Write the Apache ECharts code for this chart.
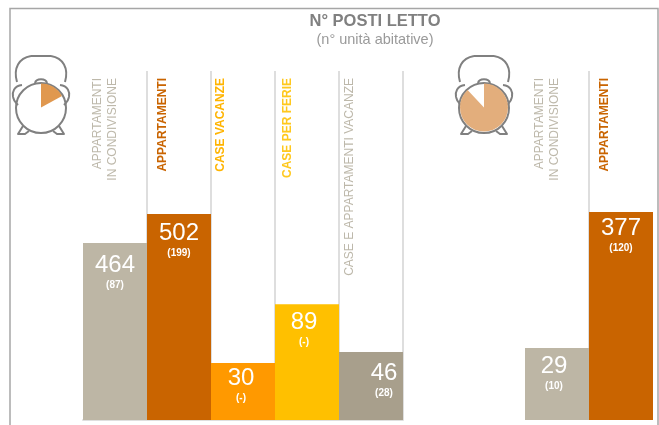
<!DOCTYPE html>
<html><head><meta charset="utf-8">
<style>html,body{margin:0;padding:0;background:#fff}#c{width:659px;height:425px}</style>
<script src="https://cdn.jsdelivr.net/npm/echarts@6/dist/echarts.min.js"></script>
</head><body><div id="c"></div>
<script>
// Left panel
const catsA = ['APPARTAMENTI\nIN CONDIVISIONE','APPARTAMENTI','CASE VACANZE','CASE PER FERIE','CASE E APPARTAMENTI VACANZE'];
const postiA = [464,502,30,89,46];
const unitaA = ['(87)','(199)','(-)','(-)','(28)'];
const levelsA = [50.7,59,16.3,33.2,19.5];   // drawn bar height, % of column (bars in the source are not to scale)
const colorsA = ['#BDB6A5','#C96400','#FF9900','#FFC000','#A89F8C'];
const textA = ['#BDB8AA','#C96400','#FFB400','#FFC81E','#BDB8AA'];
const boldA = [false,true,true,true,false];
const shiftA = [[0,4],[0,1],[-2,-3],[-3,0],[13,3]];
const catPadA = [16,30,42,36,40];
// Right panel
const catsB = ['APPARTAMENTI\nIN CONDIVISIONE','APPARTAMENTI'];
const postiB = [29,377];
const unitaB = ['(10)','(120)'];
const levelsB = [20.6,59.6];
const colorsB = ['#BDB6A5','#C96400'];
const textB = ['#BDB8AA','#C96400'];
const boldB = [false,true];
const shiftB = [[-3,0],[0,-2]];
const catPadB = [16,30];
// Clock shares
const clockA = [17,83];
const clockB = [88,12];

const FONT = '"Liberation Sans",Arial,sans-serif';
const chart = echarts.init(document.getElementById('c'));

function barData(levels,posti,unita,colors,shift){
  return levels.map((v,i)=>({
    value:v,
    itemStyle:{color:colors[i]},
    label:{offset:shift[i],formatter:'{a|'+posti[i]+'}\n{b|'+unita[i]+'}'}
  }));
}
function xAxis(cats,idx,colors,bold,pads,splitOpt,lineShow){
  const rich={};
  cats.forEach((c,i)=>{
    const base={fontFamily:FONT,fontSize:12,lineHeight:15.5,color:colors[i],fontWeight:bold[i]?'bold':'normal',verticalAlign:'top'};
    rich['h'+i]=base;
    rich['t'+i]=Object.assign({},base,{lineHeight:15.5+pads[i]});
  });
  return {type:'category',gridIndex:idx,position:'top',data:cats,boundaryGap:true,
    axisTick:{show:false},
    axisLine:{show:lineShow,lineStyle:{color:'#DFDFDF',width:2}},
    splitLine:Object.assign({show:true,lineStyle:{color:'#DEDEDE',width:2}},splitOpt),
    axisLabel:{inside:true,rotate:90,interval:0,margin:7,fontFamily:FONT,fontSize:12,
      formatter:(v,i)=>{
        const ls=v.split('\n');
        return ls.map((l,k)=>'{'+(k===ls.length-1?'t':'h')+i+'|'+l+'}').join('\n');
      },
      rich}
  };
}
function barSeries(idx,data){
  return {type:'bar',xAxisIndex:idx,yAxisIndex:idx,data,barWidth:'100%',barGap:'0%',z:3,
    label:{show:true,position:'insideTop',distance:5,color:'#fff',fontFamily:FONT,align:'center',
      rich:{a:{fontSize:24,lineHeight:27,color:'#fff',fontFamily:FONT,align:'center'},
            b:{fontSize:10,lineHeight:13,fontWeight:'bold',color:'#fff',fontFamily:FONT,align:'center'}}}};
}
function clockSeries(cx,cy,r,data,colors){
  return {type:'pie',center:[cx,cy],radius:[0,r],startAngle:90,clockwise:true,silent:true,z:1,
    label:{show:false},labelLine:{show:false},
    emphasis:{disabled:true},
    data:data.map((v,i)=>({value:v,itemStyle:{color:colors[i]}}))};
}
function clockIcon(cx,cy){
  const st={stroke:'#808080',lineWidth:2,fill:'none',lineJoin:'round'};
  const bez=(a,b,c,d,e,f,g,h)=>({type:'bezierCurve',shape:{x1:a,y1:b,cpx1:c,cpy1:d,cpx2:e,cpy2:f,x2:g,y2:h},style:st});
  const poly=(pts)=>({type:'polyline',shape:{points:pts},style:st});
  return {type:'group',x:cx,y:cy,z:5,children:[
    {type:'circle',shape:{cx:0,cy:0,r:25},style:st},
    bez(-24,-26,-28,-40,-22,-50,-10,-52),
    poly([[-10,-52],[10,-52]]),
    bez(10,-52,22,-50,28,-40,24,-26),
    bez(-19,-23,-27,-22,-29,-16,-28,-11),
    bez(-28,-11,-27,-6,-25,-5,-23,-3),
    bez(19,-23,27,-22,29,-16,28,-11),
    bez(28,-11,27,-6,25,-5,23,-3),
    bez(-6,-25,-5,-30,5,-30,6,-25),
    poly([[-18,18],[-23,26],[-16,26],[-12,23]]),
    poly([[18,18],[23,26],[16,26],[12,23]])
  ]};
}

chart.setOption({
  animation:false,
  backgroundColor:'#fff',
  title:{left:370,top:8,textAlign:'center',text:'N° POSTI LETTO',subtext:'(n° unità abitative)',itemGap:2,
    textStyle:{fontFamily:FONT,fontSize:16.5,fontWeight:'bold',color:'#808080'},
    subtextStyle:{fontFamily:FONT,fontSize:14.5,color:'#9A9A9A'}},
  grid:[{left:83,top:71,width:320,height:349},{left:525,top:71,width:128,height:349}],
  xAxis:[
    xAxis(catsA,0,textA,boldA,catPadA,{showMinLine:false},true),
    xAxis(catsB,1,textB,boldB,catPadB,{showMinLine:false,showMaxLine:false},false)
  ],
  yAxis:[{type:'value',gridIndex:0,min:0,max:100,show:false},{type:'value',gridIndex:1,min:0,max:100,show:false}],
  series:[
    barSeries(0,barData(levelsA,postiA,unitaA,colorsA,shiftA)),
    barSeries(1,barData(levelsB,postiB,unitaB,colorsB,shiftB)),
    clockSeries(41,107.5,24,clockA,['#E0984F','rgba(0,0,0,0)']),
    clockSeries(484,107.5,24,clockB,['#E3AE7C','rgba(0,0,0,0)'])
  ],
  graphic:[
    {type:'polyline',shape:{points:[[10,425],[10,8.5],[658,8.5],[658,425]]},style:{stroke:'#A6A6A6',lineWidth:1.5,fill:'none'}},
    clockIcon(41,108),clockIcon(484,108)
  ]
});
</script></body></html>
